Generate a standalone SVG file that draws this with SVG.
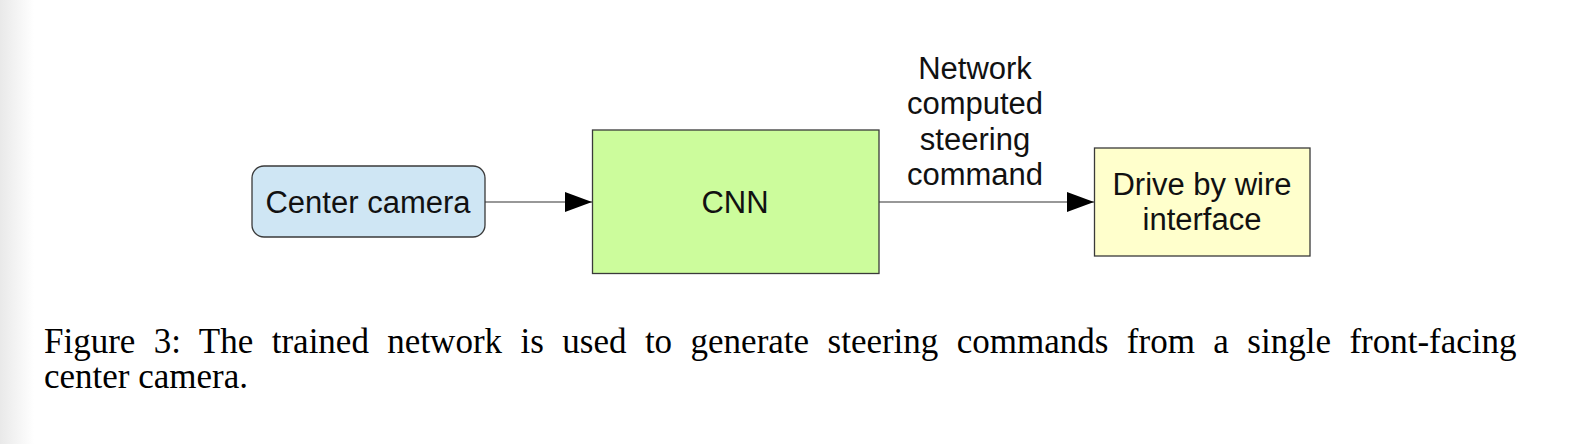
<svg xmlns="http://www.w3.org/2000/svg" width="1594" height="444" viewBox="0 0 1594 444">
<defs>
<linearGradient id="edge" x1="0" y1="0" x2="1" y2="0">
<stop offset="0" stop-color="#e9e9e9"/>
<stop offset="1" stop-color="#ffffff"/>
</linearGradient>
<marker id="arr" markerWidth="27" markerHeight="20" refX="27" refY="10" orient="auto" markerUnits="userSpaceOnUse">
<path d="M0,0 L27,10 L0,20 Z" fill="#000"/>
</marker>
<style>
.box{stroke:#3a3a3a;stroke-width:1.3}
.lbl{font-family:"Liberation Sans",Arial,sans-serif;font-size:31px;fill:#111;text-anchor:middle}
.cap{font-family:"Liberation Serif","Times New Roman",serif;font-size:35px;fill:#000}
.conn{stroke:#333;stroke-width:1.2;fill:none;marker-end:url(#arr)}
</style>
</defs>
<rect x="0" y="0" width="1594" height="444" fill="#fff"/>
<rect x="0" y="0" width="34" height="444" fill="url(#edge)"/>
<g id="center-camera">
<rect class="box" x="252" y="166" width="233" height="71" rx="12" fill="#cfe6f4"/>
<text class="lbl" x="368" y="213">Center camera</text>
</g>
<g id="cnn">
<rect class="box" x="592.5" y="130" width="286.5" height="143.5" fill="#ccfc9c"/>
<text class="lbl" x="735" y="213">CNN</text>
</g>
<g id="drive-by-wire">
<rect class="box" x="1094.5" y="148" width="215.5" height="108" fill="#ffffcc"/>
<text class="lbl" x="1202" y="195">Drive by wire</text>
<text class="lbl" x="1202" y="230">interface</text>
</g>
<g id="connectors">
<line class="conn" x1="485" y1="202" x2="592" y2="202"/>
<line class="conn" x1="879" y1="202" x2="1094" y2="202"/>
<text class="lbl" x="975" y="79">Network</text>
<text class="lbl" x="975" y="114">computed</text>
<text class="lbl" x="975" y="150">steering</text>
<text class="lbl" x="975" y="185">command</text>
</g>
<g id="caption">
<text class="cap" x="44" y="353" word-spacing="9.7">Figure 3: The trained network is used to generate steering commands from a single front-facing</text>
<text class="cap" x="44" y="388">center camera.</text>
</g>
</svg>
